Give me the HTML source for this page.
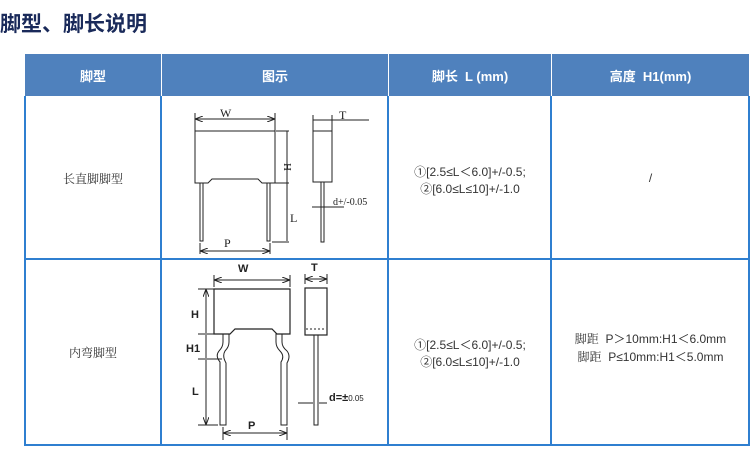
<!DOCTYPE html>
<html><head><meta charset="utf-8"><style>
body{margin:0;width:750px;height:457px;background:#fff;position:relative;overflow:hidden;font-family:"Liberation Sans","Noto Sans CJK SC",sans-serif}
.t{position:absolute;left:0;top:8px;font-size:21px;font-weight:bold;color:#1a2a5a;font-family:"Noto Sans CJK SC",sans-serif}
.hd{position:absolute;top:54px;height:42px;background:#4f81bd;color:#fff;font-size:13px;font-weight:bold;display:flex;align-items:center;justify-content:center}
.v{position:absolute;background:#2f7fd0;width:2px}
.h{position:absolute;background:#2f7fd0;height:2px}
.c{position:absolute;font-size:12px;color:#333;text-align:center;line-height:17px}
</style></head><body>
<div class="t">脚型、脚长说明</div>
<div class="hd" style="left:25px;width:136px">脚型</div>
<div class="hd" style="left:162px;width:226px">图示</div>
<div class="hd" style="left:389px;width:162px">脚长&nbsp; L (mm)</div>
<div class="hd" style="left:552px;width:197px">高度&nbsp; H1(mm)</div>
<div class="v" style="left:24px;top:96px;height:350px"></div>
<div class="v" style="left:160px;top:96px;height:350px"></div>
<div class="v" style="left:387px;top:96px;height:350px"></div>
<div class="v" style="left:550px;top:96px;height:350px"></div>
<div class="v" style="left:748px;top:96px;height:350px"></div>
<div class="h" style="left:24px;top:258px;width:726px"></div>
<div class="h" style="left:24px;top:444px;width:726px"></div>
<div class="c" style="left:25px;width:136px;top:170px;font-family:'Noto Serif CJK SC',serif">长直脚脚型</div>
<div class="c" style="left:25px;width:136px;top:344px;font-family:'Noto Serif CJK SC',serif">内弯脚型</div>
<div class="c" style="left:389px;width:162px;top:164px">①[2.5≤L＜6.0]+/-0.5;<br>②[6.0≤L≤10]+/-1.0</div>
<div class="c" style="left:389px;width:162px;top:337px">①[2.5≤L＜6.0]+/-0.5;<br>②[6.0≤L≤10]+/-1.0</div>
<div class="c" style="left:552px;width:197px;top:170px">/</div>
<div class="c" style="left:552px;width:197px;top:330px"><span style="font-family:'Noto Serif CJK SC',serif">脚距</span>&nbsp; P＞10mm:H1＜6.0mm<br><span style="font-family:'Noto Serif CJK SC',serif">脚距</span>&nbsp; P≤10mm:H1＜5.0mm</div>
<svg width="750" height="457" style="position:absolute;left:0;top:0" fill="none" stroke="#222" stroke-width="1">
<defs><marker id="a" markerWidth="8" markerHeight="6" refX="7" refY="3" orient="auto-start-reverse"><path d="M0 0L8 3L0 6" fill="none" stroke="#222"/></marker></defs>
<!-- diagram 1 -->
<path d="M195 131H275V183H262L258 179H212L208 183H195Z"/>
<rect x="200" y="183" width="3" height="58"/><rect x="267" y="183" width="3" height="58"/>
<path d="M195 113V131M275 113V131"/><path d="M196 119H274" marker-start="url(#a)" marker-end="url(#a)"/>
<path d="M276 131H289M271 183H289M272 242H289M287 131V241"/>
<path d="M200 243V254M270 243V254"/><path d="M201 251H269" marker-start="url(#a)" marker-end="url(#a)"/>
<rect x="313" y="131" width="19" height="51"/><rect x="321" y="182" width="3" height="60"/>
<path d="M313 115V131M332 115V131M313 120H369"/>
<path d="M312 207H344"/>
<g font-family="Liberation Serif" font-size="12" fill="#222" stroke="none">
<text x="220" y="117">W</text><text x="224" y="247">P</text><text x="290" y="222">L</text>
<text x="339" y="119">T</text><text x="333" y="205" font-size="10">d+/-0.05</text>
<text x="284" y="163" font-size="11" transform="rotate(90 284 163)">H</text></g>
<!-- diagram 2 -->
<path d="M214 289H290V334H277L272 329H235L230 334H214Z" stroke-width="1.2"/>
<path d="M223 334V342Q223 347 219 351Q215 356 220 362V425H226V363Q222 356 225 351Q229 347 229 342V334Z"/>
<path d="M276 334V342Q276 347 280 351Q285 356 281 362V425H287V363Q291 356 287 351Q282 347 282 342V334Z"/>
<path d="M214 275V287M290 275V287"/><path d="M215 280H289" marker-start="url(#a)" marker-end="url(#a)"/>
<path d="M198 289H214M198 334H214M198 359H222M198 425H218"/>
<path d="M206 290V333M206 335V358M206 360V424" marker-start="url(#a)" marker-end="url(#a)"/>
<path d="M223 427V440M287 427V440"/><path d="M224 433H286" marker-start="url(#a)" marker-end="url(#a)"/>
<rect x="305" y="288" width="22" height="47" stroke-width="1.2"/>
<path d="M306 329H326" stroke-dasharray="2 2"/>
<rect x="314" y="335" width="4" height="90"/>
<path d="M305 274V284M327 274V284"/><path d="M306 279H326" marker-start="url(#a)" marker-end="url(#a)"/>
<path d="M298 403H313M319 403H327"/>
<g font-family="Liberation Sans" font-size="11" font-weight="bold" fill="#222" stroke="none">
<text x="238" y="272">W</text><text x="311" y="271">T</text>
<text x="191" y="318">H</text><text x="186" y="352">H1</text><text x="192" y="395">L</text>
<text x="248" y="429">P</text><text x="329" y="401">d=±<tspan font-size="8" font-weight="normal">0.05</tspan></text></g>
</svg>
</body></html>
